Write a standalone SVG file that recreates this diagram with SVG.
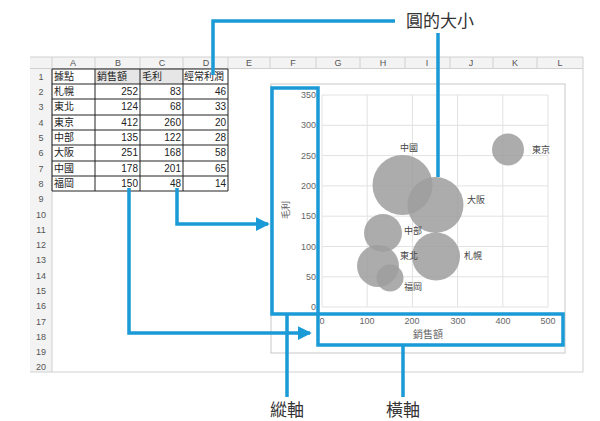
<svg xmlns="http://www.w3.org/2000/svg" width="600" height="421" viewBox="0 0 600 421">
<style>
text{font-family:"Liberation Sans","Noto Sans CJK TC",sans-serif}
.g{stroke:#d0d0d0;stroke-width:1;fill:none}
.h{font-size:9px;fill:#555;text-anchor:middle;font-family:"Liberation Serif","Noto Sans CJK TC",serif}
.c{font-size:10px;fill:#222}
.n{font-size:10px;fill:#222;text-anchor:end;font-family:"Liberation Serif",serif}
.t{stroke:#222;stroke-width:1;fill:none}
.grid{stroke:#e2e2e2;stroke-width:1}
.ax{font-size:9px;fill:#666}
.b{fill:#9e9e9e;fill-opacity:0.85}
.bl{font-size:9px;fill:#444}
.blue{stroke:#1a9ad6;stroke-width:3.5;fill:none}
.lab{font-size:17px;fill:#333}
</style>
<defs><marker id="ar" markerWidth="4" markerHeight="4" refX="3.5" refY="2" orient="auto" markerUnits="strokeWidth"><path d="M0,0 L4,2 L0,4 z" fill="#1a9ad6"/></marker></defs>
<rect width="600" height="421" fill="#fff"/>
<g id="sheet">
<rect x="30" y="57" width="553" height="11" fill="#f3f3f3"/>
<rect x="30" y="57" width="22" height="315" fill="#f3f3f3"/>
<path class="g" d="M30,57H583M30,68.5H583M52,57V372M95,57V68M140,57V68M183,57V68M228,57V68M270,57V68M316,57V68M360,57V68M405,57V68M450,57V68M493,57V68M537,57V68M583,57V372M30,372H583"/>
<g class="h">
<text x="73" y="66">A</text><text x="118" y="66">B</text><text x="162" y="66">C</text><text x="206" y="66">D</text><text x="249" y="66">E</text><text x="293" y="66">F</text><text x="338" y="66">G</text><text x="383" y="66">H</text><text x="427" y="66">I</text><text x="471" y="66">J</text><text x="515" y="66">K</text><text x="560" y="66">L</text>
<text x="41" y="80">1</text><text x="41" y="95">2</text><text x="41" y="110">3</text><text x="41" y="126">4</text><text x="41" y="141">5</text><text x="41" y="156">6</text><text x="41" y="172">7</text><text x="41" y="187">8</text><text x="41" y="202">9</text><text x="41" y="218">10</text><text x="41" y="233">11</text><text x="41" y="248">12</text><text x="41" y="263">13</text><text x="41" y="279">14</text><text x="41" y="294">15</text><text x="41" y="309">16</text><text x="41" y="325">17</text><text x="41" y="340">18</text><text x="41" y="355">19</text><text x="41" y="370">20</text>
</g>
</g>
<g id="table">
<rect x="95" y="69" width="88" height="15" fill="#e6e6e6"/>
<path class="t" d="M52,69H228M52,84H228M52,99H228M52,115H228M52,130H228M52,145H228M52,161H228M52,176H228M52,191H228M52,69V191M95,69V191M140,69V191M183,69V191M228,69V191"/>
<g class="c"><text x="54" y="80">據點</text><text x="97" y="80">銷售額</text><text x="142" y="80">毛利</text><text x="184" y="80">經常利潤</text>
<text x="54" y="95">札幌</text><text x="54" y="110">東北</text><text x="54" y="126">東京</text><text x="54" y="141">中部</text><text x="54" y="156">大阪</text><text x="54" y="172">中國</text><text x="54" y="187">福岡</text></g>
<g class="n"><text x="138" y="95">252</text><text x="181" y="95">83</text><text x="226" y="95">46</text>
<text x="138" y="110">124</text><text x="181" y="110">68</text><text x="226" y="110">33</text>
<text x="138" y="126">412</text><text x="181" y="126">260</text><text x="226" y="126">20</text>
<text x="138" y="141">135</text><text x="181" y="141">122</text><text x="226" y="141">28</text>
<text x="138" y="156">251</text><text x="181" y="156">168</text><text x="226" y="156">58</text>
<text x="138" y="172">178</text><text x="181" y="172">201</text><text x="226" y="172">65</text>
<text x="138" y="187">150</text><text x="181" y="187">48</text><text x="226" y="187">14</text></g>
</g>
<g id="chart">
<rect x="271" y="84" width="294" height="269" fill="#fff" stroke="#c8c8c8"/>
<path class="grid" d="M322,95H548M322,125.3H548M322,155.6H548M322,185.9H548M322,216.2H548M322,246.5H548M322,276.8H548M322,307H548M322,95V307M367.2,95V307M412.4,95V307M457.6,95V307M502.8,95V307M548,95V307"/>
<g class="ax" text-anchor="end"><text x="316" y="98">350</text><text x="316" y="128">300</text><text x="316" y="159">250</text><text x="316" y="189">200</text><text x="316" y="219">150</text><text x="316" y="250">100</text><text x="316" y="280">50</text><text x="316" y="310">0</text></g>
<g class="ax" text-anchor="middle"><text x="322" y="324">0</text><text x="367" y="324">100</text><text x="412" y="324">200</text><text x="458" y="324">300</text><text x="503" y="324">400</text><text x="548" y="324">500</text><text x="428" y="338" font-size="10">銷售額</text></g>
<text class="ax" font-size="10" transform="translate(289,210) rotate(-90)" text-anchor="middle">毛利</text>
<circle class="b" cx="402.5" cy="185" r="30"/>
<circle class="b" cx="435.5" cy="205" r="28"/>
<circle class="b" cx="436" cy="256.5" r="24"/>
<circle class="b" cx="508" cy="149.5" r="16"/>
<circle class="b" cx="383" cy="233" r="19"/>
<circle class="b" cx="378" cy="266" r="21"/>
<circle class="b" cx="390" cy="278" r="13.5"/>
<g class="bl"><text x="400" y="151">中國</text><text x="532" y="153">東京</text><text x="467" y="203">大阪</text><text x="404" y="234">中部</text><text x="400" y="259">東北</text><text x="464" y="259">札幌</text><text x="404" y="290">福岡</text></g>
</g>
<g id="connectors">
<path class="blue" d="M272,88H318V314H272Z"/>
<path class="blue" d="M318,314H563V345H318Z"/>
<path class="blue" d="M213,75V21H395"/>
<path class="blue" d="M438,33V177"/>
<path class="blue" d="M177,188V224H268" marker-end="url(#ar)"/>
<path class="blue" d="M129,188V333H310" marker-end="url(#ar)"/>
<path class="blue" d="M287,314V397"/>
<path class="blue" d="M403,345V397"/>
</g>
<g id="labels" class="lab" text-anchor="middle">
<text x="440" y="27">圓的大小</text>
<text x="287" y="416">縱軸</text>
<text x="403" y="416">橫軸</text>
</g>
</svg>
